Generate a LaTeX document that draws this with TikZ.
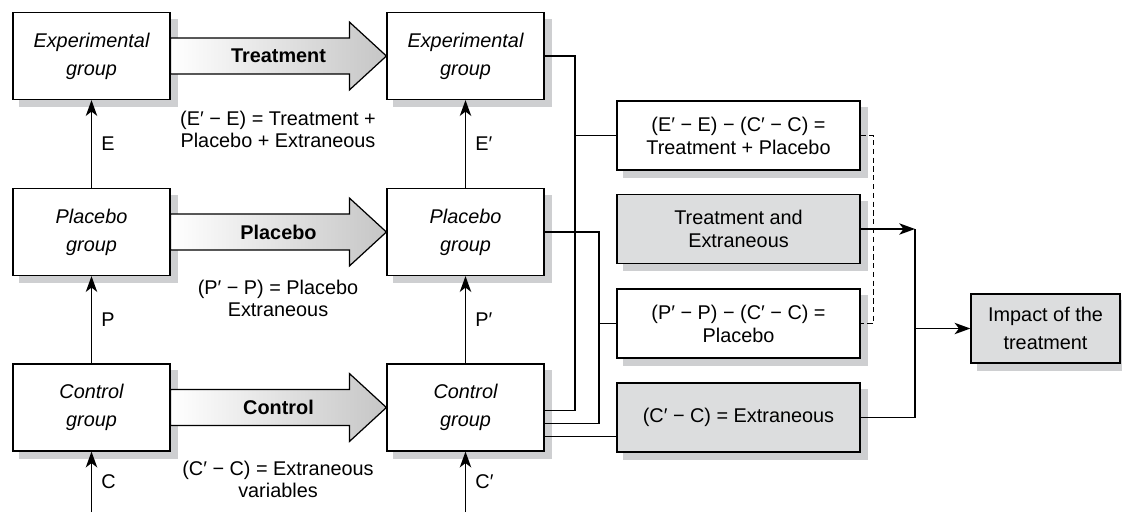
\documentclass[tikz,border=0pt]{standalone}
\usepackage{fontspec}
\setmainfont{Liberation Sans}
\usetikzlibrary{arrows.meta,backgrounds,calc,positioning}
\definecolor{boxgray}{RGB}{220,221,222}
\definecolor{shadowgray}{RGB}{206,207,209}
\tikzset{%
	group/.style    = {draw, rectangle, fill=white, minimum width=3.14cm, minimum height=1.74cm, align=center, inner sep=0pt, font=\itshape\fontsize{11.3}{16}\selectfont},
	result/.style   = {draw, rectangle, fill=white, minimum width=4.86cm, minimum height=1.38cm, align=center, inner sep=0pt, font=\fontsize{11.3}{13}\selectfont},
	grayres/.style  = {result, fill=boxgray},
	blockarrow/.style = {draw, left color=white, right color=gray!45},
	note/.style     = {align=center, font=\fontsize{11.3}{12.5}\selectfont},
	arrow/.style    = {-{Stealth[length=9pt,width=6.5pt,inset=2.5pt]}},
}
\begin{document}
\begin{tikzpicture}[line width=0.7pt, node distance=3.52cm, font=\fontsize{11.3}{13}\selectfont]
	\useasboundingbox (0,0) rectangle (22.44,-10.24);
	% groups before and after
	\node[group] (eg) at (1.83,-1.12) {Experimental\\group};
	\node[group, below of=eg] (pg) {Placebo\\group};
	\node[group, below of=pg, node distance=3.51cm] (cg) {Control\\group};
	\node[group, right of=eg, node distance=7.48cm] (eg2) {Experimental\\group};
	\node[group, right of=pg, node distance=7.48cm] (pg2) {Placebo\\group};
	\node[group, right of=cg, node distance=7.48cm] (cg2) {Control\\group};
	
	% differences
	\node[result] (d1) at (14.77,-2.71) {(E′ − E) − (C′ − C) =\\Treatment + Placebo};
	\node[grayres] (d2) at (14.77,-4.58) {Treatment and\\Extraneous};
	\node[result] (d3) at (14.77,-6.47) {(P′ − P) − (C′ − C) =\\Placebo};
	\node[grayres] (d4) at (14.77,-8.35) {(C′ − C) = Extraneous};
	\node[grayres, minimum width=2.98cm, font=\fontsize{11.3}{15.5}\selectfont] (imp) at (20.91,-6.57) {Impact of the\\treatment};
	
	% shadows
	\begin{scope}[on background layer]
		\foreach \n in {eg,pg,cg,eg2,pg2,cg2,d1,d2,d3,d4,imp}
			\fill[shadowgray] ([shift={(0.14,-0.14)}]\n.south west) rectangle ([shift={(0.14,-0.14)}]\n.north east);
	\end{scope}
	
	% block arrows
	\foreach \a/\b/\t in {eg/eg2/Treatment, pg/pg2/Placebo, cg/cg2/Control}{
		\draw[blockarrow] ($(\a.east)+(0,0.36)$) -- ($(\b.west)+(-0.74,0.36)$) -- ($(\b.west)+(-0.74,0.68)$) -- (\b.west)
			-- ($(\b.west)+(-0.74,-0.68)$) -- ($(\b.west)+(-0.74,-0.36)$) -- ($(\a.east)+(0,-0.36)$) -- cycle;
		\node[font=\bfseries\fontsize{11.3}{13}\selectfont] (\t) at ($(\a.east)!0.5!(\b.west)$) {\t};
	}
	\node[note] (tl) at (5.56,-2.58) {(E′ − E) = Treatment +\\Placebo + Extraneous};
	\node[note] (pl) at (5.56,-5.97) {(P′ − P) = Placebo\\Extraneous};
	\node[note] (cl) at (5.56,-9.58) {(C′ − C) = Extraneous\\variables};
	
	% measurements
	\coordinate (cin) at (cg.south |- 0,-10.24);
	\coordinate (cin2) at (cg2.south |- 0,-10.24);
	\draw[arrow] (pg) -- node[right, xshift=2pt] {E} (eg);
	\draw[arrow] (cg) -- node[right, xshift=2pt] {P} (pg);
	\draw[arrow] (cin) -- node[right, xshift=2pt] {C} (cg);
	\draw[arrow] (pg2) -- node[right, xshift=2pt] {E′} (eg2);
	\draw[arrow] (cg2) -- node[right, xshift=2pt] {P′} (pg2);
	\draw[arrow] (cin2) -- node[right, xshift=2pt] {C′} (cg2);
	
	% comparisons
	\coordinate (t1) at (11.5,0);
	\coordinate (t2) at (11.98,0);
	\coordinate (c1) at ([yshift=-0.06cm]cg2.east);
	\coordinate (c2) at ([yshift=-0.32cm]cg2.east);
	\coordinate (c3) at ([yshift=-0.58cm]cg2.east);
	\draw (eg2.east) -| (t1 |- c1) -- (c1);
	\draw (d1.west) -- (d1.west -| t1);
	\draw (pg2.east) -| (t2 |- c2) -- (c2);
	\draw (d3.west) -- (d3.west -| t2);
	\draw (c3) -- (c3 -| d4.west);
	\draw[dashed, dash pattern=on 3pt off 2pt] (d1.east) -- ++(0.26,0) |- (d3.east);
	
	\coordinate (jn) at (18.3,0);
	\draw[arrow] (d2.east) -- (d2.east -| jn);
	\draw (d4.east) -| (d2.east -| jn);
	\draw[arrow] (imp.west -| jn) -- (imp);
\end{tikzpicture}
\end{document}
